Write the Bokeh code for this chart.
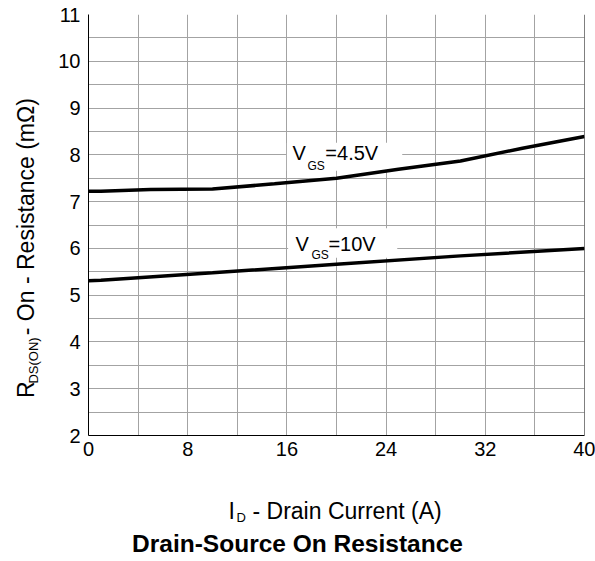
import math
from bokeh.plotting import figure
from bokeh.models import FixedTicker, Label, BoxAnnotation, Span
from bokeh.layouts import row, column
from bokeh.embed import file_html
from bokeh.resources import INLINE

# ---- data ----
x_ticks = [0, 8, 16, 24, 32, 40]
x_minor = [4, 12, 20, 28, 36]
y_ticks = [2, 3, 4, 5, 6, 7, 8, 9, 10, 11]
y_minor = [2.5, 3.5, 4.5, 5.5, 6.5, 7.5, 8.5, 9.5, 10.5]

id_45 = [0, 1, 5, 10, 15, 20, 25, 30, 35, 40]
r_45 = [7.22, 7.22, 7.26, 7.27, 7.38, 7.50, 7.69, 7.87, 8.14, 8.39]

id_10 = [0, 1, 10, 20, 30, 40]
r_10 = [5.31, 5.32, 5.48, 5.66, 5.84, 6.00]

FONT = "Liberation Sans"
GRID = "#a3a3a3"


def blank(w, h):
    f = figure(width=w, height=h, x_range=(0, w), y_range=(0, h),
               x_axis_type=None, y_axis_type=None,
               output_backend="svg", toolbar_location=None, min_border=0)
    f.outline_line_color = None
    f.xgrid.visible = False
    f.ygrid.visible = False
    return f


def lab(fig, x, y, t, size, **kw):
    fig.add_layout(Label(x=x, y=y, text=t, text_font=FONT, text_font_size=size,
                         text_color="black", text_baseline="middle", **kw))


# ---- main plot ----
p = figure(width=545, height=470, x_range=(0, 40), y_range=(2, 11),
           output_backend="svg", toolbar_location=None,
           min_border_left=38, min_border_right=11,
           min_border_top=14, min_border_bottom=35)
p.outline_line_color = None

for ax in (p.xaxis, p.yaxis):
    ax.axis_line_color = "black"
    ax.axis_line_width = 1
    ax.major_tick_out = 0
    ax.major_tick_in = 0
    ax.minor_tick_out = 0
    ax.minor_tick_in = 0
    ax.major_label_text_font = FONT
    ax.major_label_text_font_size = "20px"
    ax.major_label_text_color = "black"

p.xaxis.ticker = FixedTicker(ticks=x_ticks, minor_ticks=x_minor)
p.yaxis.ticker = FixedTicker(ticks=y_ticks, minor_ticks=y_minor)
p.xaxis.major_label_standoff = 6
p.yaxis.major_label_standoff = 8

p.xgrid.grid_line_color = GRID
p.ygrid.grid_line_color = GRID
p.xgrid.minor_grid_line_color = GRID
p.ygrid.minor_grid_line_color = GRID

p.add_layout(Span(location=40, dimension="height", line_color="black", line_width=1))

# white backing boxes for curve labels (under the curves, over the grid)
p.add_layout(BoxAnnotation(left=16.0, right=25.3, bottom=7.66, top=8.26, level="underlay",
                           fill_color="white", fill_alpha=1, line_alpha=0))
p.add_layout(BoxAnnotation(left=16.1, right=24.9, bottom=5.80, top=6.43, level="underlay",
                           fill_color="white", fill_alpha=1, line_alpha=0))

p.line(id_45, r_45, line_color="black", line_width=3.5)
p.line(id_10, r_10, line_color="black", line_width=3.5)

lab(p, 16.45, 8.03, "V", "20px")
lab(p, 17.66, 7.77, "GS", "12px")
lab(p, 19.10, 8.03, "=4.5V", "20px")

lab(p, 16.70, 6.10, "V", "20px")
lab(p, 17.98, 5.85, "GS", "12px")
lab(p, 19.35, 6.10, "=10V", "20px")

# ---- y axis title panel ----
yfig = blank(50, 470)
lab(yfig, 25, 42, "R", "23px", angle=math.pi / 2)
lab(yfig, 33, 58, "DS(ON)", "13px", angle=math.pi / 2)
lab(yfig, 25, 112, "- On - Resistance (mΩ)", "23px", angle=math.pi / 2)

# ---- bottom panel: x title and chart title ----
bfig = blank(595, 91)
lab(bfig, 228, 51, "I", "23px")
lab(bfig, 236, 44, "D", "13px")
lab(bfig, 252, 51, "- Drain Current (A)", "23px")
lab(bfig, 297, 18, "Drain-Source On Resistance", "24.5px",
    text_align="center", text_font_style="bold")

layout = column(row(yfig, p), bfig)
open("out.html", "w").write(file_html(layout, INLINE))
